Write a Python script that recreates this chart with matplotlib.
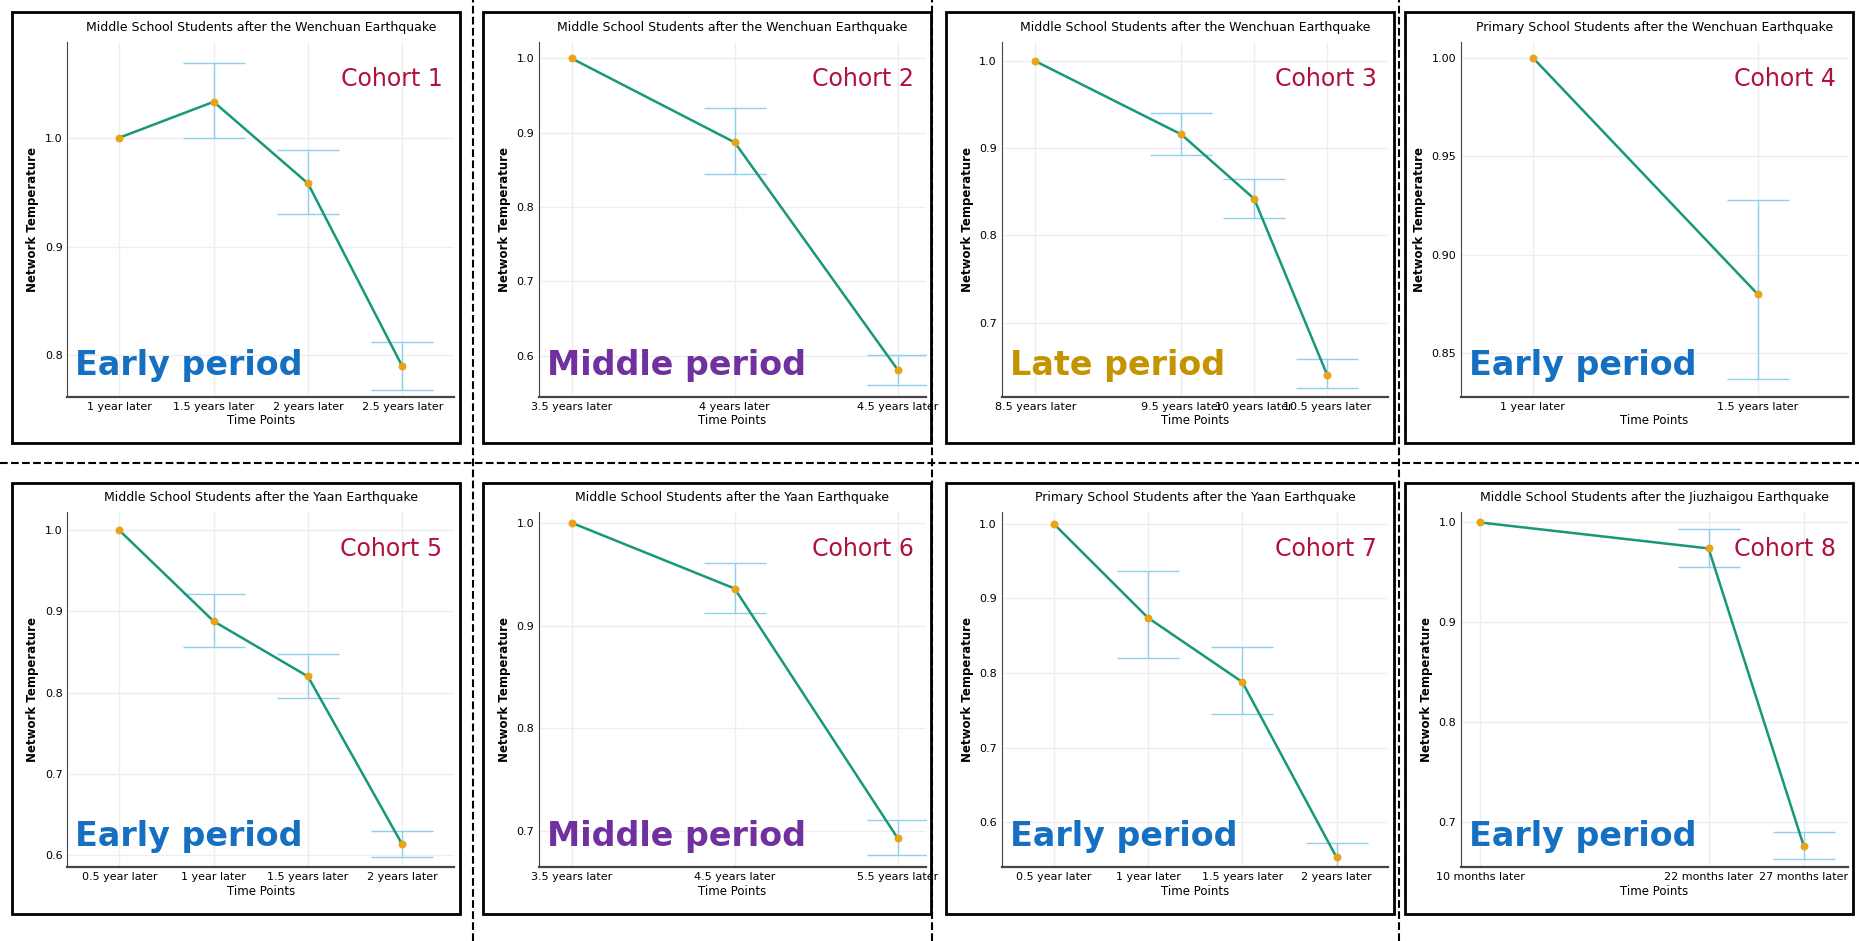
import numpy as np
import matplotlib.pyplot as plt
from matplotlib.lines import Line2D

titles = [
    "Middle School Students after the Wenchuan Earthquake",
    "Middle School Students after the Wenchuan Earthquake",
    "Middle School Students after the Wenchuan Earthquake",
    "Primary School Students after the Wenchuan Earthquake",
    "Middle School Students after the Yaan Earthquake",
    "Middle School Students after the Yaan Earthquake",
    "Primary School Students after the Yaan Earthquake",
    "Middle School Students after the Jiuzhaigou Earthquake",
]
x_pos = [
    [1, 2, 3, 4], [1, 2, 3], [8.5, 9.5, 10, 10.5], [1, 2],
    [1, 2, 3, 4], [1, 2, 3], [1, 2, 3, 4], [10, 22, 27],
]
x_labels = [
    ["1 year later", "1.5 years later", "2 years later", "2.5 years later"],
    ["3.5 years later", "4 years later", "4.5 years later"],
    ["8.5 years later", "9.5 years later", "10 years later", "10.5 years later"],
    ["1 year later", "1.5 years later"],
    ["0.5 year later", "1 year later", "1.5 years later", "2 years later"],
    ["3.5 years later", "4.5 years later", "5.5 years later"],
    ["0.5 year later", "1 year later", "1.5 years later", "2 years later"],
    ["10 months later", "22 months later", "27 months later"],
]
values = [
    [1.0, 1.033, 0.958, 0.790],
    [1.0, 0.887, 0.581],
    [1.0, 0.916, 0.842, 0.640],
    [1.0, 0.880],
    [1.0, 0.888, 0.820, 0.613],
    [1.0, 0.936, 0.693],
    [1.0, 0.874, 0.788, 0.553],
    [1.0, 0.974, 0.676],
]
err_low = [
    [1.0, 1.000, 0.930, 0.768],
    [1.0, 0.845, 0.561],
    [1.0, 0.892, 0.820, 0.625],
    [1.0, 0.837],
    [1.0, 0.856, 0.793, 0.597],
    [1.0, 0.912, 0.677],
    [1.0, 0.820, 0.745, 0.533],
    [1.0, 0.955, 0.663],
]
err_high = [
    [1.0, 1.069, 0.989, 0.812],
    [1.0, 0.933, 0.601],
    [1.0, 0.940, 0.865, 0.658],
    [1.0, 0.928],
    [1.0, 0.922, 0.848, 0.630],
    [1.0, 0.961, 0.711],
    [1.0, 0.936, 0.835, 0.573],
    [1.0, 0.993, 0.690],
]
x_limits = [
    (0.45, 4.55), (0.8, 3.17), (8.27, 10.92), (0.68, 2.4),
    (0.45, 4.55), (0.8, 3.17), (0.45, 4.55), (9.0, 29.3),
]
y_limits = [
    (0.762, 1.088), (0.545, 1.022), (0.615, 1.022), (0.828, 1.008),
    (0.585, 1.022), (0.665, 1.01), (0.54, 1.015), (0.655, 1.01),
]
y_ticks = [
    [0.8, 0.9, 1.0], [0.6, 0.7, 0.8, 0.9, 1.0], [0.7, 0.8, 0.9, 1.0],
    [0.85, 0.90, 0.95, 1.00], [0.6, 0.7, 0.8, 0.9, 1.0], [0.7, 0.8, 0.9, 1.0],
    [0.6, 0.7, 0.8, 0.9, 1.0], [0.7, 0.8, 0.9, 1.0],
]
periods = ["Early period", "Middle period", "Late period", "Early period",
           "Early period", "Middle period", "Early period", "Early period"]
period_colors = {"Early period": "#1670C2", "Middle period": "#7030A0",
                 "Late period": "#C49300"}

fig = plt.figure(figsize=(18.59, 9.41), dpi=100)

box_left = [0.0064, 0.260, 0.509, 0.756]
box_w = 0.241
box_bottom = [0.529, 0.029]
box_h = 0.458

for i in range(8):
    row, col = divmod(i, 4)
    bl, bb = box_left[col], box_bottom[row]
    # panel frame
    fig.patches.append(plt.Rectangle((bl, bb), box_w, box_h, transform=fig.transFigure,
                                     fill=False, edgecolor="black", linewidth=2))
    ax = fig.add_axes([bl + 0.124 * box_w, bb + 0.108 * box_h,
                       0.863 * box_w, 0.823 * box_h])
    x = np.array(x_pos[i])
    v = np.array(values[i])
    lo = np.array(err_low[i])
    hi = np.array(err_high[i])
    has_err = hi > lo
    ax.errorbar(x[has_err], v[has_err], yerr=[v[has_err] - lo[has_err], hi[has_err] - v[has_err]],
                fmt="none", ecolor="#8FCFEF", elinewidth=1, capsize=22)
    ax.plot(x, v, color="#17987A", linewidth=1.8, zorder=3)
    ax.scatter(x, v, color="#E8A317", s=22, zorder=4)
    ax.set_xlim(*x_limits[i])
    ax.set_ylim(*y_limits[i])
    ax.set_xticks(x)
    ax.set_xticklabels(x_labels[i], fontsize=8)
    ax.set_yticks(y_ticks[i])
    ax.set_yticklabels(["%.2f" % t if i == 3 else "%.1f" % t for t in y_ticks[i]], fontsize=8)
    ax.tick_params(length=0)
    ax.grid(True, color="#EEEEEE", linewidth=1)
    ax.set_axisbelow(True)
    for s in ["top", "right"]:
        ax.spines[s].set_visible(False)
    ax.spines["left"].set_color("#444444")
    ax.spines["bottom"].set_color("#444444")
    ax.spines["bottom"].set_linewidth(1.6)
    ax.set_xlabel("Time Points", fontsize=8.5, labelpad=2)
    ax.set_ylabel("Network Temperature", fontsize=8.5, fontweight="bold")
    ax.set_title(titles[i], fontsize=9, pad=8)
    ax.text(0.97, 0.93, "Cohort %d" % (i + 1), transform=ax.transAxes, ha="right", va="top",
            fontsize=17, color="#B0123B")
    ax.text(0.02, 0.04, periods[i], transform=ax.transAxes, ha="left", va="bottom",
            fontsize=24, fontweight="bold", color=period_colors[periods[i]])

# dashed separators
fig.lines.append(Line2D([0, 1], [0.508, 0.508], transform=fig.transFigure,
                        color="black", linestyle="--", linewidth=1.5))
for xs in [0.2545, 0.5015, 0.7525]:
    fig.lines.append(Line2D([xs, xs], [0.0, 1.0], transform=fig.transFigure,
                            color="black", linestyle="--", linewidth=1.5))

fig.savefig("out.png", dpi=100, facecolor="white")
